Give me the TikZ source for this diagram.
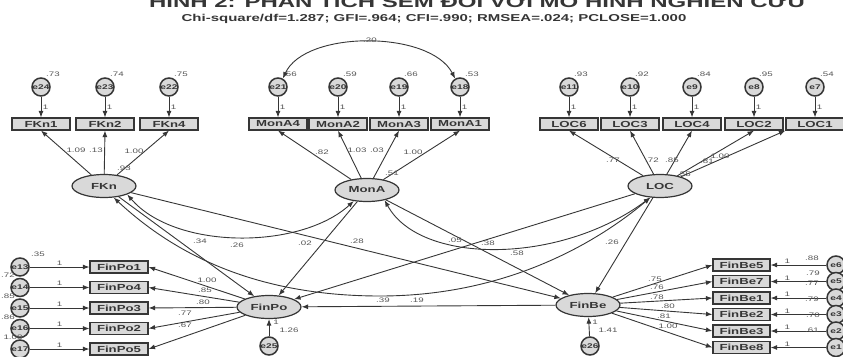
\documentclass[tikz,border=0pt]{standalone}
\usepackage{fontspec}
\setmainfont{Liberation Sans}
\newfontfamily\widefont[FakeStretch=1.5]{Liberation Sans}
\usetikzlibrary{arrows.meta,shapes.geometric}
\definecolor{ink}{HTML}{363636}
\definecolor{shade}{HTML}{D9D9D9}

\begin{document}
\begin{tikzpicture}[x=1pt,y=-1pt,
    obs/.style={draw=ink, line width=1.2pt, fill=shade, minimum width=58pt, minimum height=12pt, inner sep=0pt, text=ink, font=\widefont\bfseries\fontsize{8.8}{9}\selectfont},
    lat/.style={ellipse, draw=ink, line width=1.2pt, fill=shade, minimum width=64pt, minimum height=23pt, inner sep=0pt, text=ink, font=\widefont\bfseries\fontsize{8.8}{9}\selectfont},
    err/.style={circle, draw=ink, line width=1.5pt, fill=shade, minimum size=18pt, inner sep=0pt, text=ink, font=\widefont\bfseries\fontsize{6.8}{7}\selectfont},
    num/.style={inner sep=0pt, text=ink!85, font=\widefont\fontsize{6.5}{6.5}\selectfont},
    reg/.style={draw=ink, line width=0.9pt, -{Latex[length=6.5pt,width=5pt]}},
    cov/.style={draw=ink, line width=0.9pt, {Latex[length=6.5pt,width=5pt]}-{Latex[length=6.5pt,width=5pt]}}]
\useasboundingbox (0,0) rectangle (843,356);
\clip (0,0) rectangle (843,356);

\node[anchor=base, text=ink, font=\widefont\bfseries\fontsize{16}{17}\selectfont] (title) at (477,8) {HÌNH 2: PHÂN TÍCH SEM ĐỐI VỚI MÔ HÌNH NGHIÊN CỨU};
\node[anchor=base, text=ink, font=\widefont\bfseries\fontsize{10}{10}\selectfont] (fit) at (434,21.5) {Chi-square/df=1.287; GFI=.964; CFI=.990; RMSEA=.024; PCLOSE=1.000};

\node[lat] (FKn) at (104,186) {FKn};
\node[lat] (MonA) at (367,190) {MonA};
\node[lat] (LOC) at (660,186) {LOC};
\node[lat] (FinPo) at (269,307) {FinPo};
\node[lat] (FinBe) at (588,305) {FinBe};

\foreach \ind/\er/\x/\v in {FKn1/e24/41/.73, FKn2/e23/105/.74, FKn4/e22/169/.75,
    MonA4/e21/278/.56, MonA2/e20/338/.59, MonA3/e19/399/.66, MonA1/e18/460/.53,
    LOC6/e11/569/.93, LOC3/e10/630/.92, LOC4/e9/692/.84, LOC2/e8/754/.95, LOC1/e7/815/.54}
    {
        \node[obs] (\ind) at (\x,124) {\ind};
        \node[err] (\er) at (\x,87) {\er};
        \node[num, anchor=base west] (v\er) at (\x+5,76) {\v};
        \draw[reg] (\er) -- (\ind) node[num, midway, right=1.5pt] (w\er) {1};
    }
\foreach \ind in {FKn1,FKn2,FKn4} \draw[reg] (FKn) -- (\ind.south);
\foreach \ind in {MonA4,MonA2,MonA3,MonA1} \draw[reg] (MonA) -- (\ind.south);
\foreach \ind in {LOC6,LOC3,LOC4,LOC2} \draw[reg] (LOC) -- (\ind.south);
\draw[reg] (LOC) -- (LOC1.south west);

\foreach \ind/\er/\y in {FinPo1/e13/267, FinPo4/e14/287.5, FinPo3/e15/308, FinPo2/e16/328.5, FinPo5/e17/349}
    {
        \node[obs] (\ind) at (119,\y) {\ind};
        \node[err] (\er) at (20,\y) {\er};
        \draw[reg] (\er) -- (\ind) node[num, pos=0.5, above=1.5pt] (w\er) {1};
        \draw[reg] (FinPo) -- (\ind.east);
    }

\foreach \ind/\er/\y in {FinBe5/e6/265, FinBe7/e5/281.5, FinBe1/e4/298, FinBe2/e3/314.5, FinBe3/e2/331, FinBe8/e1/347.5}
    {
        \node[obs, minimum width=57pt] (\ind) at (741.5,\y) {\ind};
        \node[err] (\er) at (836,\y) {\er};
        \draw[reg] (\er) -- (\ind) node[num, pos=0.7, above=1pt] (w\er) {1};
        \draw[reg] (FinBe) -- (\ind.west);
    }

\node[err] (e25) at (269,346) {e25};
\node[err] (e26) at (590,346) {e26};
\draw[reg] (e25) -- (FinPo);
\draw[reg] (e26) -- (FinBe);

\draw[reg] (FKn) -- (FinPo);
\draw[reg] (FKn) -- (FinBe);
\draw[reg] (MonA) -- (FinPo);
\draw[reg] (MonA) -- (FinBe);
\draw[reg] (LOC) -- (FinPo);
\draw[reg] (LOC) -- (FinBe);
\draw[reg] (FinBe) -- (FinPo);

\draw[cov] (e21.60) .. controls (305,30) and (430,30) .. (e18.120);
\draw[cov] (FKn.-20) .. controls (175,250) and (300,250) .. (MonA.-140);
\draw[cov] (FKn.-50) .. controls (170,250) and (250,296) .. (380,296) .. controls (510,296) and (600,240) .. (LOC.-130);
\draw[cov] (MonA.-30) .. controls (420,265) and (560,265) .. (LOC.-130);

\foreach \v/\px/\py [count=\k] in {1.09/76/150, .13/96/150, 1.00/134/151, .93/124/168,
    .82/322/152, 1.03/357/150, .03/377/150, 1.00/413/152, .51/392/173,
    .77/613/160, .72/652/160, .85/672/160, .81/707/161, 1.00/720/156, .55/684/174,
    1.00/207/280, .85/205/290, .80/203/302, .77/185/313, .67/185/325,
    .35/38/254, .72/8/275, .85/8/296, .86/8/317, 1.08/13/337, 1/276/322, 1.26/289/330,
    .75/655/279, .76/657/287, .78/657/297, .80/668/306, .81/664/316, 1.00/668/326,
    .88/812/258, .79/813/273, .77/812/283, .79/812/299, .70/813/315, .61/812/330, 1/595/322, 1.41/608/330,
    .20/370/40, .34/200/241, .26/237/245, .02/305/243, .28/357/241, .05/455/240,
    .38/488/243, .58/517/253, .26/612/242, .39/383/300, .19/417/300}
    \node[num] (n\k) at (\px,\py) {\v};
\end{tikzpicture}
\end{document}
